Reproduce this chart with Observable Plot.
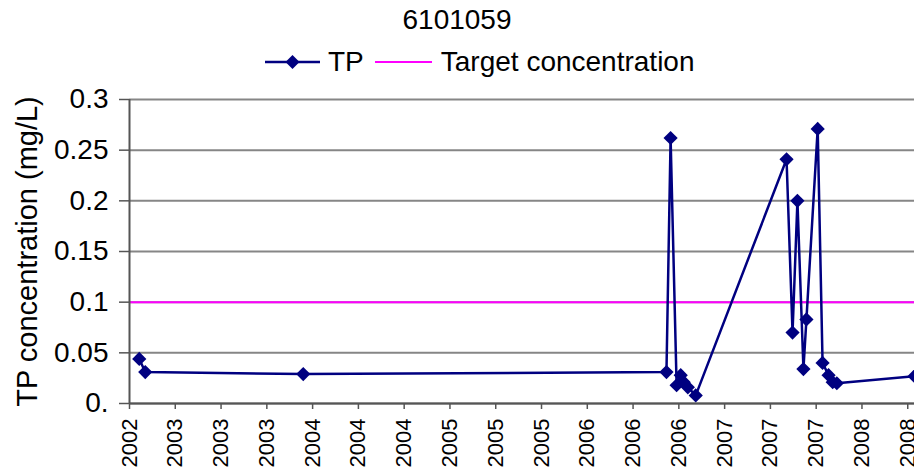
<!DOCTYPE html>
<html><head><meta charset="utf-8">
<script src="https://cdn.jsdelivr.net/npm/d3@7"></script>
<script src="https://cdn.jsdelivr.net/npm/@observablehq/plot@0.6"></script>
<style>
body{margin:0;background:#fff;font-family:"Liberation Sans",Arial,sans-serif;color:#000;}
#wrap{position:relative;width:914px;height:470px;overflow:hidden;background:#fff;}
#title{position:absolute;left:0;top:6px;width:914px;text-align:center;font-size:28px;line-height:28px;}
#legend{position:absolute;left:265px;top:48px;height:28px;display:flex;align-items:center;font-size:28px;line-height:28px;white-space:nowrap;z-index:2;}
#legend svg{display:block;}
#chart{position:absolute;left:0;top:78px;}
</style></head><body>
<div id="wrap"><div id="title"></div><div id="legend"></div><div id="chart"></div></div>
<script>
const title = "6101059";
const seriesName = "TP";
const targetName = "Target concentration";
const yLabel = "TP concentration (mg/L)";

const sampleDates = ["2002-11-10","2002-11-26","2004-01-21","2006-09-15","2006-09-26","2006-10-12","2006-10-23","2006-10-31","2006-11-11","2006-12-02","2007-08-01","2007-08-17","2007-08-30","2007-09-15","2007-09-23","2007-10-23","2007-11-05","2007-11-21","2007-12-02","2007-12-13","2008-07-07"];
const tpValues = [0.044,0.031,0.029,0.031,0.262,0.018,0.028,0.021,0.016,0.008,0.241,0.070,0.200,0.034,0.083,0.271,0.040,0.028,0.021,0.020,0.027];
const targetValue = 0.1;

const xDomain = ["2002-10-15","2008-07-07"];
const xTickDates = ["2002-10-15","2003-02-14","2003-06-16","2003-10-16","2004-02-15","2004-06-16","2004-10-16","2005-02-15","2005-06-17","2005-10-17","2006-02-16","2006-06-18","2006-10-18","2007-02-17","2007-06-19","2007-10-19","2008-02-18","2008-06-19"];
const yDomain = [0, 0.3];
const yTicks = [0,0.05,0.1,0.15,0.2,0.25,0.3];
const yTickLabels = ["0.","0.05","0.1","0.15","0.2","0.25","0.3"];

const navy = "#000080", magenta = "#ff00ff", grid = "#868686", axisCol = "#555555";
const parse = s => new Date(s + "T00:00:00Z");

document.getElementById("title").textContent = title;
const lg = document.getElementById("legend");
lg.innerHTML =
  `<svg width="55" height="28"><line x1="0" x2="55" y1="14" y2="14" stroke="${navy}" stroke-width="2.5"/><path d="M27.5 7 L34.5 14 L27.5 21 L20.5 14Z" fill="${navy}"/></svg>` +
  `<span style="margin-left:8px"></span>` +
  `<svg width="57" height="28" style="margin-left:11px"><line x1="0" x2="57" y1="14" y2="14" stroke="${magenta}" stroke-width="2"/></svg>` +
  `<span style="margin-left:9px"></span>`;
const spans = lg.querySelectorAll("span");
spans[0].textContent = seriesName;
spans[1].textContent = targetName;

const data = sampleDates.map((d, i) => ({date: parse(d), value: tpValues[i]}));
const fmtY = d => yTickLabels[yTicks.findIndex(t => Math.abs(t - d) < 1e-9)];

const plot = Plot.plot({
  width: 914, height: 392,
  marginLeft: 129, marginRight: 0, marginTop: 21, marginBottom: 67,
  style: {fontFamily: "'Liberation Sans', Arial, sans-serif", background: "transparent", color: "#000", overflow: "visible"},
  x: {type: "utc", domain: xDomain.map(parse)},
  y: {domain: yDomain},
  marks: [
    Plot.gridY(yTicks, {stroke: grid, strokeOpacity: 1, strokeWidth: 2}),
    Plot.ruleY([targetValue], {stroke: magenta, strokeWidth: 2}),
    Plot.line(data, {x: "date", y: "value", stroke: navy, strokeWidth: 2.5}),
    Plot.dot(data, {x: "date", y: "value", symbol: "diamond2", r: 6.4, fill: navy}),
    Plot.axisY(yTicks, {tickSize: 10, tickPadding: 11, fontSize: 28, tickFormat: fmtY, stroke: axisCol, strokeWidth: 1.5, label: null}),
    Plot.axisX(xTickDates.map(parse), {tickSize: 6, tickPadding: 9, tickRotate: -90, fontSize: 22, tickFormat: d3.utcFormat("%Y"), stroke: axisCol, strokeWidth: 1.5, label: null}),
    Plot.ruleX([parse(xDomain[0])], {stroke: axisCol, strokeWidth: 2}),
    Plot.ruleY([0], {stroke: axisCol, strokeWidth: 2}),
    Plot.text([yLabel], {text: d => d, frameAnchor: "left", dx: -102, rotate: -90, fontSize: 29, textAnchor: "middle", lineAnchor: "middle"})
  ]
});
document.getElementById("chart").appendChild(plot);
</script>
</body></html>
